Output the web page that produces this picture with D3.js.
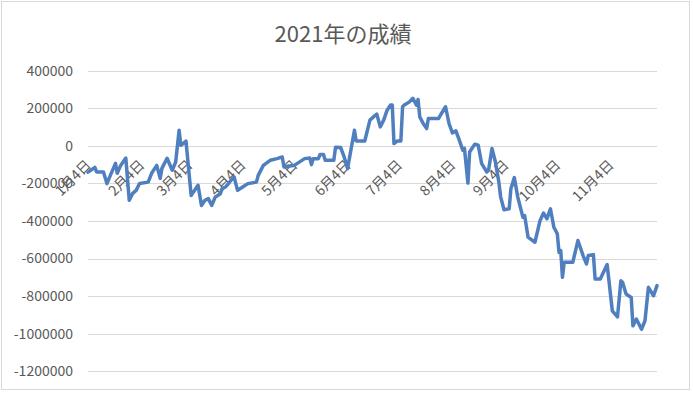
<!DOCTYPE html>
<html>
<head>
<meta charset="utf-8">
<script src="https://cdn.jsdelivr.net/npm/d3@7"></script>
<style>
  body { margin: 0; background: #fff; }
  svg { display: block; font-family: "Noto Sans CJK JP", "Noto Sans", sans-serif; }
</style>
</head>
<body>
<div id="chart"></div>
<script>
const title = "2021年の成績";

const dates = [
  "2021-01-04","2021-01-08","2021-01-09","2021-01-13","2021-01-15","2021-01-17","2021-01-20","2021-01-21",
  "2021-01-23","2021-01-26","2021-01-28","2021-01-30","2021-02-01","2021-02-03","2021-02-08","2021-02-10",
  "2021-02-13","2021-02-15","2021-02-16","2021-02-19","2021-02-22","2021-02-24","2021-02-26","2021-02-27",
  "2021-03-02","2021-03-05","2021-03-07","2021-03-09","2021-03-11","2021-03-13","2021-03-15","2021-03-17",
  "2021-03-19","2021-03-22","2021-03-23","2021-03-25","2021-03-29","2021-03-30","2021-04-01","2021-04-04",
  "2021-04-07","2021-04-12","2021-04-13","2021-04-16","2021-04-20","2021-04-24","2021-04-27","2021-04-28",
  "2021-05-01","2021-05-04","2021-05-10","2021-05-13","2021-05-14","2021-05-15","2021-05-18","2021-05-19",
  "2021-05-21","2021-05-22","2021-05-27","2021-05-28","2021-05-31","2021-06-02","2021-06-04","2021-06-08",
  "2021-06-09","2021-06-14","2021-06-17","2021-06-19","2021-06-21","2021-06-23","2021-06-25","2021-06-27",
  "2021-06-29","2021-06-30","2021-07-01","2021-07-03","2021-07-05","2021-07-06","2021-07-07","2021-07-10",
  "2021-07-12","2021-07-14","2021-07-15","2021-07-16","2021-07-18","2021-07-20","2021-07-21","2021-07-27",
  "2021-07-28","2021-07-31","2021-08-02","2021-08-04","2021-08-06","2021-08-08","2021-08-10","2021-08-11",
  "2021-08-13","2021-08-14","2021-08-17","2021-08-19","2021-08-21","2021-08-24","2021-08-25","2021-08-27",
  "2021-08-29","2021-08-31","2021-09-01","2021-09-03","2021-09-06","2021-09-07","2021-09-09","2021-09-11",
  "2021-09-14","2021-09-15","2021-09-17","2021-09-21","2021-09-24","2021-09-26","2021-09-28","2021-09-30",
  "2021-10-02","2021-10-04","2021-10-05","2021-10-06","2021-10-07","2021-10-08","2021-10-13","2021-10-16",
  "2021-10-19","2021-10-21","2021-10-22","2021-10-25","2021-10-26","2021-10-29","2021-11-02","2021-11-05",
  "2021-11-08","2021-11-10","2021-11-11","2021-11-13","2021-11-16","2021-11-17","2021-11-19","2021-11-22",
  "2021-11-24","2021-11-26","2021-11-29","2021-12-01"
];

const values = [
  -140000,-115000,-139000,-139000,-201000,-157000,-93000,-146000,
  -104000,-65000,-290000,-253000,-237000,-200000,-193000,-146000,
  -104000,-173000,-120000,-66000,-130000,-86000,83000,3000,
  25000,-264000,-237000,-210000,-317000,-290000,-281000,-317000,
  -273000,-255000,-228000,-219000,-175000,-166000,-237000,-219000,
  -201000,-193000,-157000,-104000,-77000,-68000,-59000,-113000,
  -107000,-104000,-68000,-65000,-100000,-68000,-68000,-46000,
  -46000,-77000,-77000,-8000,-9000,-59000,-121000,83000,
  26000,26000,137000,154000,169000,101000,137000,190000,
  217000,217000,12000,26000,26000,208000,217000,234000,
  253000,217000,247000,154000,119000,92000,146000,146000,
  163000,208000,119000,69000,80000,30000,-23000,-14000,
  -198000,-33000,9000,3000,-95000,-139000,-130000,-14000,
  -86000,-193000,-270000,-340000,-335000,-228000,-169000,-273000,
  -380000,-371000,-486000,-513000,-397000,-358000,-388000,-335000,
  -433000,-468000,-567000,-557000,-700000,-620000,-620000,-504000,
  -584000,-629000,-584000,-579000,-709000,-709000,-632000,-878000,
  -910000,-718000,-727000,-789000,-807000,-958000,-922000,-976000,
  -931000,-753000,-798000,-744000
];

const yTicks = [400000, 200000, 0, -200000, -400000, -600000, -800000, -1000000, -1200000];
const xTicks = ["2021-01-04","2021-02-04","2021-03-04","2021-04-04","2021-05-04","2021-06-04",
                "2021-07-04","2021-08-04","2021-09-04","2021-10-04","2021-11-04"];

const W = 693, H = 393;
const parse = d3.timeParse("%Y-%m-%d");
const data = dates.map((d, i) => ({ date: parse(d), value: values[i] }));

const svg = d3.select("#chart").append("svg").attr("width", W).attr("height", H);

// chart area border
svg.append("rect")
  .attr("x", 1.5).attr("y", 1.5).attr("width", 688).attr("height", 388)
  .attr("fill", "#fff").attr("stroke", "#d9d9d9");

const x = d3.scaleTime()
  .domain([parse("2021-01-04"), parse("2021-12-01")])
  .range([88, 657]);
const y = d3.scaleLinear()
  .domain([-1200000, 400000])
  .range([371.3, 70.7]);

svg.append("text")
  .attr("x", 343).attr("y", 42)
  .attr("text-anchor", "middle")
  .attr("fill", "#595959")
  .style("font-size", "22px")
  .text(title);

// gridlines
svg.append("g")
  .selectAll("line")
  .data(yTicks)
  .join("line")
  .attr("x1", 88).attr("x2", 657)
  .attr("y1", d => Math.round(y(d)) + 0.5)
  .attr("y2", d => Math.round(y(d)) + 0.5)
  .attr("stroke", "#d9d9d9");

// y labels
svg.append("g")
  .selectAll("text")
  .data(yTicks)
  .join("text")
  .attr("x", 73)
  .attr("y", d => y(d))
  .attr("dy", "0.35em")
  .attr("text-anchor", "end")
  .attr("fill", "#595959")
  .style("font-size", "14px")
  .text(d => d);

// x labels sit along the zero line
const fmt = d3.timeFormat("%-m月%-d日");
svg.append("g")
  .selectAll("text")
  .data(xTicks.map(parse))
  .join("text")
  .attr("transform", d => `translate(${x(d) + 4},${y(0) + 20}) rotate(-45)`)
  .attr("text-anchor", "end")
  .attr("fill", "#595959")
  .style("font-size", "14px")
  .text(fmt);

const line = d3.line()
  .x(d => x(d.date))
  .y(d => y(d.value));

svg.append("path")
  .datum(data)
  .attr("fill", "none")
  .attr("stroke", "#4f7fbe")
  .attr("stroke-width", 3.5)
  .attr("stroke-linejoin", "round")
  .attr("stroke-linecap", "round")
  .attr("d", line);
</script>
</body>
</html>
